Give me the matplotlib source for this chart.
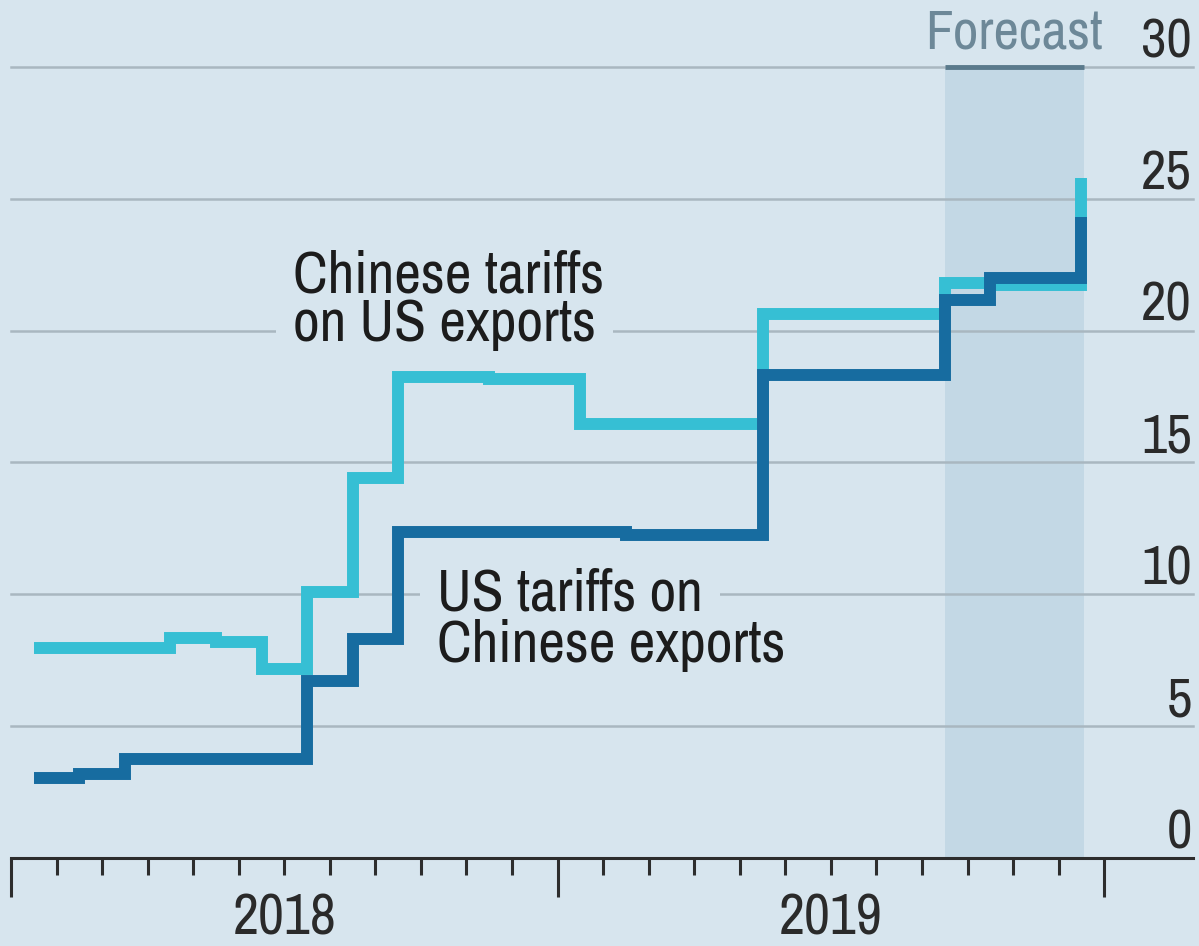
import matplotlib.pyplot as plt
import matplotlib.transforms as mtransforms
from matplotlib import font_manager
import numpy as np

# ─────────────────────────────────────────────
# Datos (aranceles medios, %), un valor por mes ene-2018 .. dic-2019
# ─────────────────────────────────────────────
meses = np.arange(24)  # 0 = ene 2018

us_tariffs = [3.05, 3.2, 3.75, 3.75, 3.75, 3.75, 6.7, 8.3, 12.35, 12.35, 12.35, 12.35,
              12.35, 12.25, 12.25, 12.25, 18.3, 18.3, 18.3, 18.3, 21.15, 22.0, 22.0, 24.3]

cn_tariffs = [7.95, 7.95, 7.95, 8.35, 8.2, 7.15, 10.1, 14.4, 18.25, 18.25, 18.15, 18.15,
              16.45, 16.45, 16.45, 16.45, 20.65, 20.65, 20.65, 20.65, 21.8, 21.75, 21.75, 25.8]

yticks = [0, 5, 10, 15, 20, 25, 30]
years = ['2018', '2019']
forecast_span = (20.5, 23.55)

# colores
BG = '#d7e5ee'
GRID = '#a9b7c0'
SHADE = '#c3d8e5'
CYAN = '#36bfd4'
DARK = '#176ca0'
AXC = '#2d2d2d'
TXT = '#1c1c1c'

# buscar una fuente angosta (si no hay, DejaVu Sans condensada o Roboto)
fuentes = font_manager.fontManager.ttflist
estirar = 'normal'
angostas = [f.name for f in fuentes if 'Narrow' in f.name or 'Condensed' in f.name]
if angostas:
    fuente = angostas[0]
elif any(f.name == 'DejaVu Sans' and f.stretch == 'condensed' for f in fuentes):
    fuente, estirar = 'DejaVu Sans', 'condensed'
else:
    fuente = 'Roboto'
plt.rcParams['font.family'] = fuente
plt.rcParams['font.stretch'] = estirar

fig = plt.figure(figsize=(11.99, 9.46), dpi=100)
fig.patch.set_facecolor(BG)
ax = fig.add_axes([11 / 1199, 88 / 946, 1182 / 1199, 791 / 946])
ax.set_facecolor(BG)
ax.set_xlim(0, 25.95)
ax.set_ylim(0, 30)

# zona de pronostico
ax.axvspan(*forecast_span, color=SHADE, lw=0, zorder=0)
ax.plot(forecast_span, [30, 30], color='#5a7a8c', lw=3.5, solid_capstyle='butt',
        clip_on=False, zorder=2)
ax.text(sum(forecast_span) / 2, 30.72, 'Forecast', ha='center', va='baseline',
        fontsize=40, fontweight='bold', color='#6d8898', clip_on=False)

# grilla
for v in yticks[1:]:
    ax.axhline(v, color=GRID, lw=1.8, zorder=1, clip_on=False)

x = meses + 0.5
ax.plot(x, cn_tariffs, drawstyle='steps-post', color=CYAN, lw=8.6,
        solid_joinstyle='miter', solid_capstyle='butt', zorder=3)
ax.plot(x, us_tariffs, drawstyle='steps-post', color=DARK, lw=8.6,
        solid_joinstyle='miter', solid_capstyle='butt', zorder=4)

# etiquetas de series
caja = dict(facecolor=BG, edgecolor='none', pad=12)
etiq = dict(fontsize=42, color=TXT, va='baseline')
ax.text(6.19, 21.43, 'Chinese tariffs', zorder=2.6, **etiq)
ax.text(6.19, 19.6, 'on US exports', zorder=2.5, bbox=caja, **etiq)
ax.text(9.35, 9.40, 'US tariffs on', zorder=2.5, bbox=caja, **etiq)
ax.text(9.35, 7.45, 'Chinese exports', zorder=2.6, **etiq)

# eje y (etiquetas a la derecha, sobre la linea)
off = mtransforms.offset_copy(ax.transData, fig=fig, y=7, units='points')
for v in yticks:
    ax.text(25.93, v, str(v), transform=off, ha='right', va='baseline',
            fontsize=40, color='#2a2a2a')

# eje x
for s in ['top', 'left', 'right']:
    ax.spines[s].set_visible(False)
ax.spines['bottom'].set_color(AXC)
ax.spines['bottom'].set_linewidth(2.2)
ax.set_xticks([0, 12, 24])
ax.set_xticks([m for m in range(1, 24) if m != 12], minor=True)
ax.tick_params(axis='x', which='major', length=28, width=2.2, color=AXC, labelbottom=False)
ax.tick_params(axis='x', which='minor', length=12, width=2.2, color=AXC)
ax.tick_params(axis='y', left=False, labelleft=False)

trans = mtransforms.blended_transform_factory(ax.transData, ax.transAxes)
for i, yr in enumerate(years):
    ax.text(6 + 12 * i, -0.097, yr, transform=trans, ha='center', va='baseline',
            fontsize=41, color='#2a2a2a')

fig.savefig('out.png', dpi=100, facecolor=BG)
